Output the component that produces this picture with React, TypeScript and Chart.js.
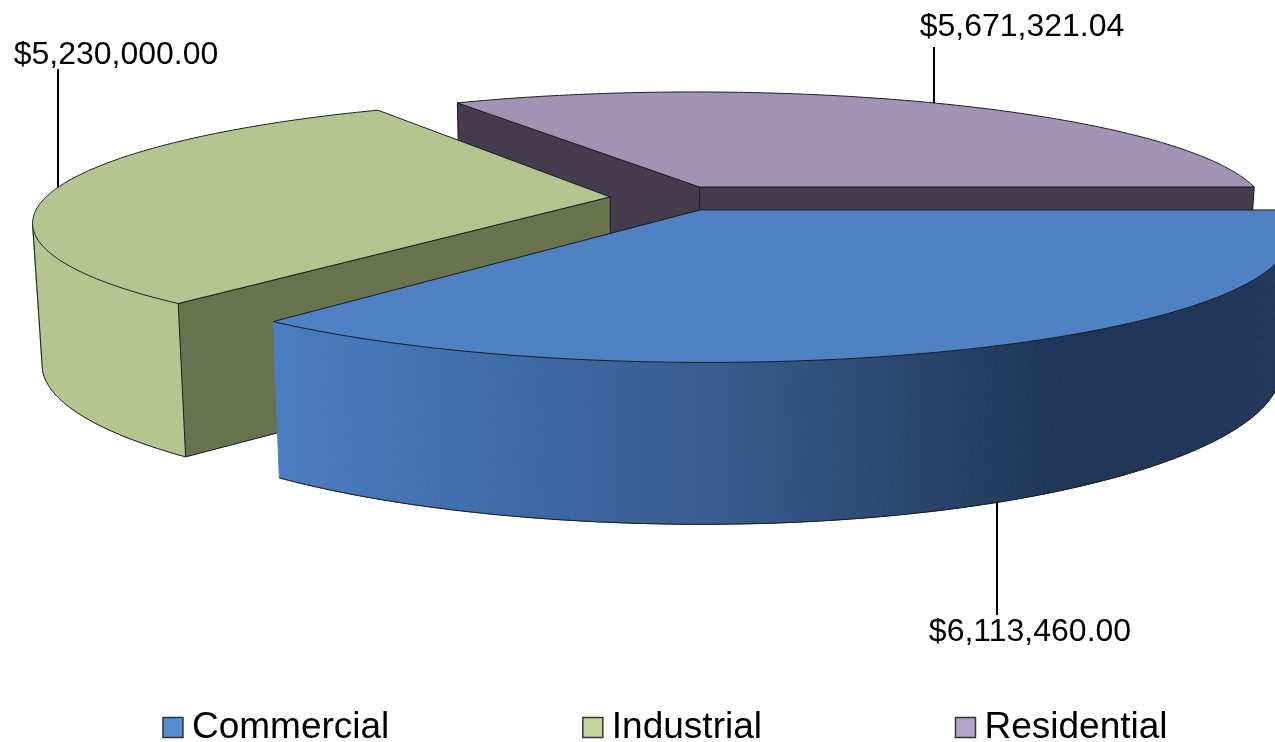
import React, { useEffect, useRef } from "react";
import { Chart, registerables } from "chart.js";

Chart.register(...registerables);

const categories = ["Commercial", "Industrial", "Residential"];
const seriesValues = [6113460.0, 5230000.0, 5671321.04];
const valueLabels = ["$6,113,460.00", "$5,230,000.00", "$5,671,321.04"];
const legendColors = ["#558ED5", "#C3D69B", "#B3A2C7"];
const topColors = ["#4F81C5", "#B5C48F", "#A292B4"];
const cutColors = ["#2B4A75", "#69744F", "#453C4D"];

const FONT = '"Liberation Sans", Arial, sans-serif';
const view = {
  cx: 672, cy: 198, rx: 565, ry: 117.5, k: 0.195, explode: 0.11, shrink: 0.985,
  h0: 149, hk: 0.085, hLeft: 8, hRight: 16,
};
const sliceShift = [1, 0, -3];
const labelLayout = [
  { textX: 1030, textY: 632, lineEndY: 615, floor: true, dx: -4 },
  { textX: 116, textY: 55, lineEndY: 69, floor: false, dx: 0 },
  { textX: 1022, textY: 27, lineEndY: 47, floor: false, dx: -2 },
];

type Pt = { x: number; y: number };

function project(mid: number, ang: number | null, floor: boolean, shift = 0): Pt {
  const { cx, cy, rx, ry, k, explode, shrink, h0, hk, hLeft, hRight } = view;
  const u = explode * Math.cos(mid) + (ang === null ? 0 : Math.cos(ang));
  const v = explode * Math.sin(mid) + (ang === null ? 0 : Math.sin(ang));
  const w = 1 - k * v;
  if (!floor) return { x: cx + shift + (rx * u) / w, y: cy + (ry * v) / w };
  const drop = h0 / (1 - hk * v) - (u < 0 ? hLeft : hRight) * u * u;
  return { x: cx + shift + (shrink * rx * u) / w, y: cy + (shrink * ry * v) / w + drop };
}

const EDGE = "#1c1c24";

function trace(ctx: CanvasRenderingContext2D, pts: Pt[]) {
  ctx.beginPath();
  pts.forEach((p, i) => (i ? ctx.lineTo(p.x, p.y) : ctx.moveTo(p.x, p.y)));
}

function fillPath(ctx: CanvasRenderingContext2D, pts: Pt[], fill: string | CanvasGradient) {
  trace(ctx, pts);
  ctx.closePath();
  ctx.fillStyle = fill;
  ctx.fill();
  ctx.lineWidth = 1;
  ctx.strokeStyle = EDGE;
  ctx.stroke();
}

const STEPS = 200;

const pie3d = {
  id: "pie3d",
  beforeDatasetsDraw(chart: any) {
    const ctx: CanvasRenderingContext2D = chart.ctx;
    const arcs = chart.getDatasetMeta(0).data;
    [2, 1, 0].forEach((i) => {
      const { startAngle: a0, endAngle: a1 } = arcs[i];
      const mid = (a0 + a1) / 2;
      const shift = sliceShift[i];
      const arcPts = (floor: boolean) => {
        const out: Pt[] = [];
        for (let s = 0; s <= STEPS; s++) out.push(project(mid, a0 + ((a1 - a0) * s) / STEPS, floor, shift));
        return out;
      };
      const top = arcPts(false);
      const floorArc = arcPts(true);
      const apexT = project(mid, null, false, shift);
      const apexB = project(mid, null, true, shift);

      let wall: string | CanvasGradient = topColors[i];
      if (i === 0) {
        const g = ctx.createLinearGradient(277, 0, 1275, 0);
        g.addColorStop(0, "#4A7EC2");
        g.addColorStop(0.25, "#3F6AA6");
        g.addColorStop(0.45, "#375C8E");
        g.addColorStop(0.78, "#203656");
        g.addColorStop(1, "#22375A");
        wall = g;
      }

      // the outer wall faces the viewer where the rim runs leftwards with the angle
      const facing = (s: number) => top[s + 1].x < top[s].x;
      for (let s = 0; s < STEPS; s++) {
        if (!facing(s)) continue;
        trace(ctx, [top[s], top[s + 1], floorArc[s + 1], floorArc[s]]);
        ctx.closePath();
        ctx.fillStyle = wall;
        ctx.strokeStyle = wall as any;
        ctx.lineWidth = 1;
        ctx.fill();
        ctx.stroke();
      }
      ctx.strokeStyle = EDGE;
      ctx.lineWidth = 1;
      for (let s = 0; s < STEPS; s++) {
        if (!facing(s)) continue;
        trace(ctx, [floorArc[s], floorArc[s + 1]]);
        ctx.stroke();
        if (s + 1 < STEPS && !facing(s + 1)) {
          trace(ctx, [top[s + 1], floorArc[s + 1]]);
          ctx.stroke();
        }
      }

      // a cut face is seen only if its outward normal points at the viewer
      if (Math.sin(a1 + Math.PI / 2) > 0) fillPath(ctx, [apexT, top[STEPS], floorArc[STEPS], apexB], cutColors[i]);
      if (Math.sin(a0 - Math.PI / 2) > 0) fillPath(ctx, [apexT, top[0], floorArc[0], apexB], cutColors[i]);
      fillPath(ctx, [apexT, ...top], topColors[i]);
    });

    ctx.font = `32px ${FONT}`;
    ctx.textAlign = "center";
    ctx.textBaseline = "middle";
    arcs.forEach((arc: any, i: number) => {
      const mid = (arc.startAngle + arc.endAngle) / 2;
      const l = labelLayout[i];
      const anchor = project(mid, mid, l.floor);
      const x = Math.round(anchor.x) + l.dx;
      ctx.beginPath();
      ctx.moveTo(x, anchor.y);
      ctx.lineTo(x, l.lineEndY);
      ctx.lineWidth = 2;
      ctx.strokeStyle = "#000";
      ctx.stroke();
      ctx.fillStyle = "#000";
      ctx.fillText(valueLabels[i], l.textX, l.textY);
    });
    return false;
  },
};

export default function App() {
  const ref = useRef<HTMLCanvasElement>(null);
  useEffect(() => {
    const chart = new Chart(ref.current as HTMLCanvasElement, {
      type: "pie",
      data: {
        labels: categories,
        datasets: [{ data: seriesValues, backgroundColor: legendColors, borderColor: "#333", borderWidth: 1.5 }],
      },
      options: {
        responsive: false,
        animation: false,
        rotation: 90,
        layout: { padding: { left: -175, right: -240, bottom: -14 } },
        plugins: {
          tooltip: { enabled: false },
          legend: {
            position: "bottom",
            labels: {
              usePointStyle: true,
              pointStyle: "rect",
              boxWidth: 1,
              boxHeight: 20,
              padding: 203,
              color: "#000",
              font: { family: FONT, size: 37, lineHeight: 1 },
            },
          },
        },
      },
      plugins: [pie3d],
    } as any);
    return () => chart.destroy();
  }, []);
  return (
    <div style={{ position: "fixed", left: 0, top: 0, width: 1275, height: 742, background: "#fff" }}>
      <canvas ref={ref} width={1275} height={742} style={{ display: "block" }} />
    </div>
  );
}
